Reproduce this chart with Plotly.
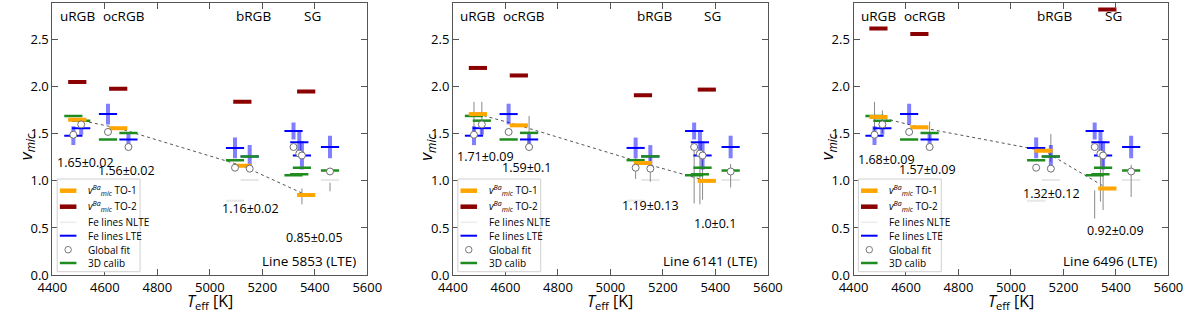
import numpy as np
import plotly.graph_objects as go

# ---------------- data ----------------
teff = [4480, 4510, 4612, 4690, 5096, 5152, 5319, 5341, 5351, 5458]
group = ["uRGB", "uRGB", "ocRGB", "ocRGB", "bRGB", "bRGB", "SG", "SG", "SG", "SG"]
vmic_global = [1.49, 1.60, 1.52, 1.36, 1.14, 1.13, 1.36, 1.29, 1.27, 1.10]
vmic_fe_lte = [1.48, 1.56, 1.71, 1.44, 1.35, 1.26, 1.53, 1.41, 1.27, 1.36]
vmic_fe_lte_err = [0.10, 0.07, 0.11, 0.07, 0.11, 0.12, 0.09, 0.12, 0.15, 0.12]
vmic_fe_nlte = [None, None, None, None, 0.79, 1.01, None, None, None, 1.01]
vmic_3d = [1.69, 1.64, 1.44, 1.51, 1.22, 1.26, 1.06, 1.07, 1.14, 1.11]

group_names = ["uRGB", "ocRGB", "bRGB", "SG"]
group_label_teff = [4495, 4670, 5167, 5390]

line_ids = ["5853", "6141", "6496"]

ba_to1_5853 = [1.65, 1.56, 1.16, 0.85]
ba_to1_err_5853 = [0.02, 0.02, 0.02, 0.05]
ba_to2_5853 = [2.05, 1.98, 1.84, 1.95]
ba_star_lo_5853 = [None, None, None, None, None, None, None, None, 0.75, 0.89]
ba_star_hi_5853 = [None, None, None, None, None, None, None, None, 0.92, 0.98]

ba_to1_6141 = [1.71, 1.59, 1.19, 1.0]
ba_to1_err_6141 = [0.09, 0.1, 0.13, 0.1]
ba_to2_6141 = [2.20, 2.12, 1.91, 1.97]
ba_star_lo_6141 = [1.51, 1.49, None, 1.38, 1.02, 0.99, 0.76, 0.75, 0.80, 0.93]
ba_star_hi_6141 = [1.84, 1.84, None, 1.69, 1.24, 1.26, 1.33, 1.40, 1.28, 1.18]

ba_to1_6496 = [1.68, 1.57, 1.32, 0.92]
ba_to1_err_6496 = [0.09, 0.09, 0.12, 0.09]
ba_to2_6496 = [2.62, 2.56, 3.10, 2.82]
ba_star_lo_6496 = [1.51, 1.51, None, 1.42, None, 1.20, 0.60, 0.78, 0.69, 0.83]
ba_star_hi_6496 = [1.84, 1.75, None, 1.63, None, 1.50, 0.90, 1.29, 1.26, 1.17]

panels = [
    (line_ids[0], ba_to1_5853, ba_to1_err_5853, ba_to2_5853, ba_star_lo_5853, ba_star_hi_5853),
    (line_ids[1], ba_to1_6141, ba_to1_err_6141, ba_to2_6141, ba_star_lo_6141, ba_star_hi_6141),
    (line_ids[2], ba_to1_6496, ba_to1_err_6496, ba_to2_6496, ba_star_lo_6496, ba_star_hi_6496),
]

# group mean temperatures
teff_arr = np.array(teff, dtype=float)
grp_arr = np.array(group)
group_teff = [float(teff_arr[grp_arr == g].mean()) for g in group_names]

# ---------------- style ----------------
FONT = "Open Sans"
ORANGE = "#FFA500"
DARKRED = "#8B0000"
BLUE = "#0000FF"
BLUE_BAR = "rgba(0,0,255,0.5)"
GREEN = "#1E8C1E"
NLTE = "rgba(160,160,160,0.25)"
GRAY = "#8a8a8a"
AXC = "#555555"

W, H = 1200, 312
left_px = [38.3, 449.2, 860.0]
panel_w = 323.0
M_T, M_B = 3, 37
plot_h = H - M_T - M_B

fig = go.Figure()

legend_items = [
    ("<i>v</i><sup><i>Ba</i></sup><sub><i>mic</i></sub> TO-1", "line", ORANGE, 4.5),
    ("<i>v</i><sup><i>Ba</i></sup><sub><i>mic</i></sub> TO-2", "line", DARKRED, 4.5),
    ("Fe lines NLTE", "line", "rgba(200,200,200,0.35)", 1.5),
    ("Fe lines LTE", "line", BLUE, 2),
    ("Global fit", "circle", "#777777", 1),
    ("3D calib", "line", GREEN, 2.5),
]
legend_row_px = [190.7, 206.7, 222.3, 235.7, 249.7, 263.0]

annotations = []
shapes = []

for k, (lid, to1, to1e, to2, slo, shi) in enumerate(panels):
    sfx = "" if k == 0 else str(k + 1)
    xa, ya = "x" + sfx, "y" + sfx

    # dotted connecting line through TO-1 values
    fig.add_trace(go.Scatter(x=group_teff, y=to1, mode="lines", xaxis=xa, yaxis=ya,
                             line=dict(color="#555555", width=1, dash="dot"),
                             showlegend=False, hoverinfo="skip"))
    # per-star thin gray segments
    sx, sy = [], []
    for t, lo, hi in zip(teff, slo, shi):
        if lo is None:
            continue
        sx += [t, t, None]
        sy += [lo, hi, None]
    fig.add_trace(go.Scatter(x=sx, y=sy, mode="lines", xaxis=xa, yaxis=ya,
                             line=dict(color=GRAY, width=1), showlegend=False,
                             hoverinfo="skip"))
    # NLTE (faint)
    fig.add_trace(go.Scatter(x=teff, y=vmic_fe_nlte, mode="markers", xaxis=xa, yaxis=ya,
                             marker=dict(symbol="line-ew", size=13,
                                         line=dict(color=NLTE, width=2)),
                             showlegend=False))
    # Fe LTE with error bars
    fig.add_trace(go.Scatter(x=teff, y=vmic_fe_lte, mode="markers", xaxis=xa, yaxis=ya,
                             error_y=dict(type="data", array=vmic_fe_lte_err,
                                          color=BLUE_BAR, thickness=4, width=0),
                             marker=dict(symbol="line-ew", size=13,
                                         line=dict(color=BLUE, width=2)),
                             showlegend=False))
    # 3D calib
    fig.add_trace(go.Scatter(x=teff, y=vmic_3d, mode="markers", xaxis=xa, yaxis=ya,
                             marker=dict(symbol="line-ew", size=13,
                                         line=dict(color=GREEN, width=2.5)),
                             showlegend=False))
    # Ba TO-1 and TO-2
    fig.add_trace(go.Scatter(x=group_teff, y=to1, mode="markers", xaxis=xa, yaxis=ya,
                             marker=dict(symbol="line-ew", size=13,
                                         line=dict(color=ORANGE, width=4)),
                             showlegend=False))
    fig.add_trace(go.Scatter(x=group_teff, y=to2, mode="markers", xaxis=xa, yaxis=ya,
                             marker=dict(symbol="line-ew", size=13,
                                         line=dict(color=DARKRED, width=4)),
                             showlegend=False))
    # Global fit circles
    fig.add_trace(go.Scatter(x=teff, y=vmic_global, mode="markers", xaxis=xa, yaxis=ya,
                             marker=dict(symbol="circle", size=7, color="white",
                                         line=dict(color="#707070", width=1)),
                             showlegend=False))

    # value labels
    for gt, v, e in zip(group_teff, to1, to1e):
        annotations.append(dict(x=gt + 30, y=v - 0.45, xref=xa, yref=ya,
                                text=f"{v}\u00b1{e}", showarrow=False,
                                font=dict(family=FONT, size=12.5, color="black"),
                                xanchor="center", yanchor="middle"))
    # group names on top
    for gx, gname in zip(group_label_teff, group_names):
        annotations.append(dict(x=gx, y=2.75, xref=xa, yref=ya, text=gname,
                                showarrow=False,
                                font=dict(family=FONT, size=13.5, color="black"),
                                xanchor="center", yanchor="middle"))
    # line id
    annotations.append(dict(x=5565, y=0.15, xref=xa, yref=ya,
                            text=f"Line {lid} (LTE)", showarrow=False,
                            font=dict(family=FONT, size=13.5, color="black"),
                            xanchor="right", yanchor="middle"))

    # axis titles
    x0 = left_px[k]
    annotations.append(dict(x=(x0 - 27) / W, y=0.47, xref="paper", yref="paper",
                            text="<i>v<sub>mic</sub></i>", textangle=-90,
                            showarrow=False,
                            font=dict(family=FONT, size=17, color="black"),
                            xanchor="center", yanchor="middle"))
    annotations.append(dict(x=(x0 + panel_w / 2) / W, y=-(301 - (H - M_B)) / plot_h,
                            xref="paper", yref="paper",
                            text="<i>T</i><sub>eff</sub> [K]", showarrow=False,
                            font=dict(family=FONT, size=16, color="black"),
                            xanchor="center", yanchor="middle"))

    # custom legend (box, symbols, texts) in axis-domain coordinates
    xd, yd = xa + " domain", ya + " domain"
    def fx(px):
        return (px - 38.3) / panel_w
    def fy(py):
        return ((H - M_B) - py) / plot_h
    shapes.append(dict(type="rect", xref=xd, yref=yd, x0=fx(43.3), x1=fx(128.3),
                       y0=fy(271.7), y1=fy(179.0), fillcolor="white",
                       line=dict(color="#d0d0d0", width=1), layer="above"))
    for (lab, kind, col, lw), ry in zip(legend_items, legend_row_px):
        if kind == "line":
            shapes.append(dict(type="line", xref=xd, yref=yd, x0=fx(46), x1=fx(63),
                               y0=fy(ry), y1=fy(ry), line=dict(color=col, width=lw),
                               layer="above"))
        else:
            r = 3.3
            shapes.append(dict(type="circle", xref=xd, yref=yd,
                               x0=fx(54.5 - r), x1=fx(54.5 + r),
                               y0=fy(ry + r), y1=fy(ry - r), fillcolor="white",
                               line=dict(color=col, width=lw), layer="above"))
        annotations.append(dict(x=fx(73), y=fy(ry), xref=xd, yref=yd, text=lab,
                                showarrow=False, xanchor="left", yanchor="middle",
                                font=dict(family=FONT, size=10, color="black")))

layout = dict(
    width=W, height=H,
    margin=dict(l=0, r=0, t=M_T, b=M_B),
    plot_bgcolor="white", paper_bgcolor="white",
    showlegend=False,
    font=dict(family=FONT, size=13, color="black"),
    annotations=annotations, shapes=shapes,
)
for k in range(3):
    sfx = "" if k == 0 else str(k + 1)
    x0 = left_px[k] / W
    x1 = (left_px[k] + panel_w) / W
    layout["xaxis" + sfx] = dict(
        domain=[x0, x1], range=[4400, 5600], tick0=4400, dtick=200,
        ticks="inside", ticklen=6, tickcolor=AXC, showline=True, linecolor=AXC,
        linewidth=1, mirror="ticks", showgrid=False, zeroline=False,
        anchor="y" + sfx, tickfont=dict(family=FONT, size=13, color="black"),
    )
    layout["yaxis" + sfx] = dict(
        domain=[0, 1], range=[0, 2.89], tick0=0, dtick=0.5, tickformat=".1f",
        ticks="inside", ticklen=6, tickcolor=AXC, showline=True, linecolor=AXC,
        linewidth=1, mirror="ticks", showgrid=False, zeroline=False,
        anchor="x" + sfx, tickfont=dict(family=FONT, size=13, color="black"),
    )
fig.update_layout(**layout)
fig.write_html("out.html", config={"displayModeBar": False},
               post_script="document.body.style.margin='0px';document.body.style.overflow='hidden';")
